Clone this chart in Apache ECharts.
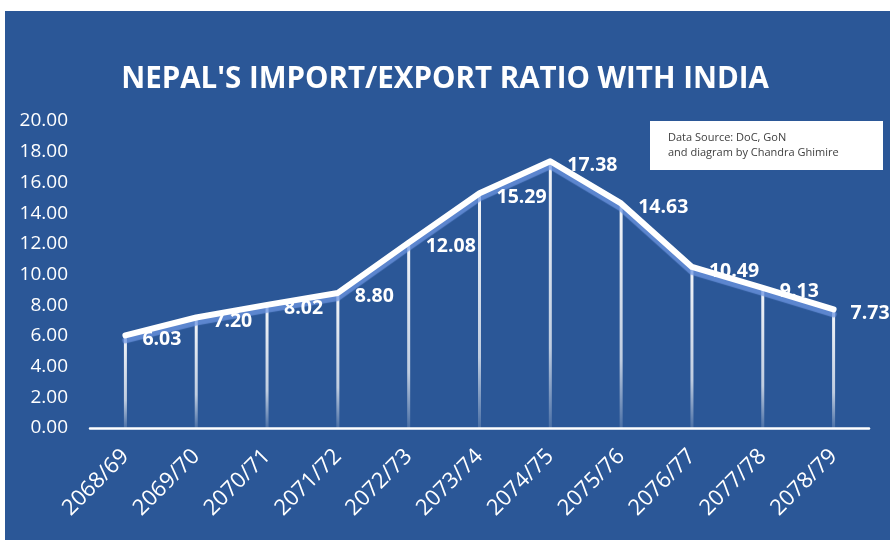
<!DOCTYPE html>
<html>
<head>
<meta charset="utf-8">
<script src="https://cdn.jsdelivr.net/npm/echarts@6/dist/echarts.min.js"></script>
<style>html,body{margin:0;padding:0;background:#fff}#c{width:890px;height:540px}</style>
</head>
<body>
<div id="c"></div>
<script>
const categories = ['2068/69','2069/70','2070/71','2071/72','2072/73','2073/74','2074/75','2075/76','2076/77','2077/78','2078/79'];
const ratioValues = [6.03, 7.20, 8.02, 8.80, 12.08, 15.29, 17.38, 14.63, 10.49, 9.13, 7.73];
const yTicks = { min: 0, max: 20, interval: 2 };
const titleText = "NEPAL'S IMPORT/EXPORT RATIO WITH INDIA";
const noteLines = ['Data Source: DoC, GoN', 'and diagram by Chandra Ghimire'];

const chart = echarts.init(document.getElementById('c'), null, {renderer: 'canvas'});
const BG = '#2B5797';
const FONT = '"Open Sans", "DejaVu Sans", sans-serif';
chart.setOption({
  backgroundColor: '#ffffff',
  animation: false,
  graphic: [
    { type: 'rect', z: -10, shape: { x: 5, y: 11, width: 885, height: 529 }, style: { fill: BG } },
    { type: 'rect', z: 10, shape: { x: 650, y: 121, width: 233, height: 49 }, style: { fill: '#ffffff' } },
    { type: 'text', z: 11, left: 668, top: 130, style: { text: noteLines.join('\n'), fill: '#404040', font: '11px ' + FONT, lineHeight: 15 } }
  ],
  title: {
    text: titleText,
    left: 'center',
    top: 60,
    textStyle: { color: '#ffffff', fontFamily: FONT, fontWeight: 'bold', fontSize: 29.5 }
  },
  grid: { left: 90, right: 21, top: 121, bottom: 112, containLabel: false },
  xAxis: {
    type: 'category',
    data: categories,
    boundaryGap: true,
    axisLine: { show: true, lineStyle: { color: '#ffffff', width: 2.5 } },
    axisTick: { show: false },
    axisLabel: { color: '#ffffff', fontFamily: FONT, fontSize: 22, rotate: 45, margin: 25, interval: 0 },
    splitLine: { show: false }
  },
  yAxis: {
    type: 'value',
    min: yTicks.min, max: yTicks.max, interval: yTicks.interval,
    axisLine: { show: false },
    axisTick: { show: false },
    splitLine: { show: false },
    axisLabel: { color: '#ffffff', fontFamily: FONT, fontSize: 19, margin: 22, formatter: v => v.toFixed(2) }
  },
  series: [
    {
      type: 'bar',
      data: ratioValues,
      barWidth: 3,
      silent: true,
      itemStyle: {
        color: new echarts.graphic.LinearGradient(0, 0, 0, 1, [
          { offset: 0, color: 'rgba(255,255,255,0.95)' },
          { offset: 0.7, color: 'rgba(255,255,255,0.7)' },
          { offset: 1, color: 'rgba(255,255,255,0.15)' }
        ])
      },
      z: 1
    },
    {
      type: 'line',
      data: ratioValues,
      showSymbol: true,
      symbol: 'circle',
      symbolSize: 2,
      itemStyle: { color: '#ffffff' },
      z: 3,
      lineStyle: { color: '#ffffff', width: 6, cap: 'round', join: 'round', shadowColor: 'rgba(110,150,225,0.75)', shadowOffsetY: 5, shadowBlur: 1 },
      label: {
        show: true,
        position: 'right',
        distance: 16,
        offset: [0, 4],
        color: '#ffffff',
        fontFamily: FONT,
        fontWeight: 'bold',
        fontSize: 19.5,
        formatter: p => p.value.toFixed(2)
      }
    }
  ]
});
</script>
</body>
</html>
